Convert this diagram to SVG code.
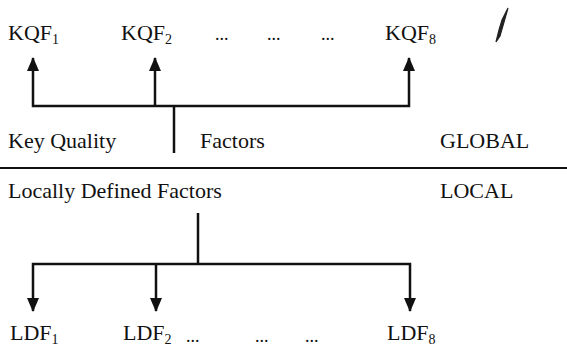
<svg xmlns="http://www.w3.org/2000/svg" width="567" height="348" viewBox="0 0 567 348">
<style>
text{font-family:"Liberation Serif","Times New Roman",serif;font-size:22px;fill:#111}
.sub{font-size:14px}
.dots{font-size:18px}
.ln{stroke:#111;stroke-width:2.5;fill:none}
.sep{stroke:#111;stroke-width:2;fill:none}
</style>
<defs>
<marker id="ah" viewBox="0 0 14 12" refX="13" refY="6" markerWidth="14" markerHeight="12" markerUnits="userSpaceOnUse" orient="auto-start-reverse">
<path d="M0,0 L14,6 L0,12 Z" fill="#111"/>
</marker>
</defs>
<rect width="567" height="348" fill="#fff"/>
<g id="connectors">
<path class="ln" d="M174,153 V106"/>
<path class="ln" d="M33,58 V106 H409 V58" marker-start="url(#ah)" marker-end="url(#ah)"/>
<path class="ln" d="M155,58 V106" marker-start="url(#ah)"/>
<path class="sep" d="M0,168 H567"/>
<path class="ln" d="M198,213 V264"/>
<path class="ln" d="M33,311 V264 H410 V311" marker-start="url(#ah)" marker-end="url(#ah)"/>
<path class="ln" d="M156,311 V264" marker-start="url(#ah)"/>
</g>
<g id="kqf1"><text x="8" y="40">KQF<tspan class="sub" dy="4">1</tspan></text></g>
<g id="kqf2"><text x="121" y="40">KQF<tspan class="sub" dy="4">2</tspan></text></g>
<g id="kqf-dots"><text class="dots" x="215" y="40">...</text><text class="dots" x="267" y="40">...</text><text class="dots" x="321" y="40">...</text></g>
<g id="kqf8"><text x="385" y="40">KQF<tspan class="sub" dy="4">8</tspan></text></g>
<g id="mark"><path d="M508,8 L502,20 L499,30 L496,42 L500,36 L504,22 Z" fill="#222" stroke="#222" stroke-width="1.2"/></g>
<g id="key-quality"><text x="8" y="148">Key Quality</text></g>
<g id="factors"><text x="200" y="148">Factors</text></g>
<g id="global"><text x="440" y="148">GLOBAL</text></g>
<g id="locally-defined"><text x="8" y="198">Locally Defined Factors</text></g>
<g id="local"><text x="440" y="198">LOCAL</text></g>
<g id="ldf1"><text x="10" y="340">LDF<tspan class="sub" dy="4">1</tspan></text></g>
<g id="ldf2"><text x="123" y="340">LDF<tspan class="sub" dy="4">2</tspan></text></g>
<g id="ldf-dots"><text class="dots" x="186" y="342">...</text><text class="dots" x="255" y="342">...</text><text class="dots" x="305" y="342">...</text></g>
<g id="ldf8"><text x="387" y="340">LDF<tspan class="sub" dy="4">8</tspan></text></g>
</svg>
